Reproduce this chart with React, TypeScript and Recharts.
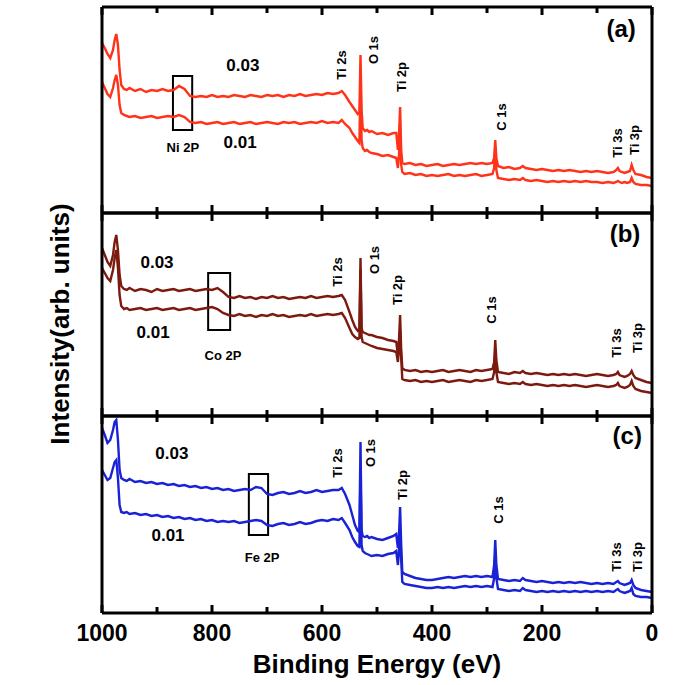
import React from 'react';
import { LineChart, Line, XAxis, YAxis, ReferenceArea, ReferenceDot } from 'recharts';

const FONT = '"Liberation Sans", Arial, Helvetica, sans-serif';

// Binding energy grid (eV)
const energy = [
  1000, 995, 990, 985, 980, 977, 974, 971, 968, 965,
  960, 955, 950, 940, 930, 920, 910, 900, 890, 880,
  870, 860, 850, 840, 830, 820, 810, 800, 790, 780,
  770, 760, 750, 740, 730, 720, 710, 700, 690, 680,
  670, 660, 650, 640, 630, 620, 610, 600, 590, 580,
  570, 564, 558, 550, 545, 540, 535, 532, 530, 528,
  526, 522, 518, 514, 510, 500, 490, 480, 470, 465,
  462, 460, 458, 456, 454, 450, 440, 430, 420, 410,
  400, 390, 380, 370, 360, 350, 340, 330, 320, 310,
  300, 290, 287, 285, 283, 280, 270, 260, 250, 240,
  235, 230, 220, 210, 200, 190, 180, 170, 160, 150,
  140, 130, 120, 110, 100, 90, 80, 70, 65, 62,
  59, 55, 50, 45, 40, 37, 34, 30, 20, 10,
  0,
];

// (a) Ni doped
const niHigh = [
  170, 165, 159, 155, 163, 173, 179, 168, 143, 128,
  124, 123, 125, 122, 124, 121, 123, 122, 124, 122,
  123, 127, 124, 117, 116, 117, 116, 118, 116, 117,
  116, 118, 117, 116, 118, 117, 116, 118, 117, 118,
  116, 118, 117, 119, 117, 118, 119, 118, 120, 119,
  120, 122, 118, 111, 107, 103, 99, 101, 158, 103,
  85, 82, 83, 81, 82, 79, 80, 78, 80, 80,
  63, 78, 106, 63, 50, 49, 50, 48, 49, 47,
  48, 49, 47, 48, 49, 48, 49, 50, 49, 50,
  49, 50, 55, 73, 55, 47, 45, 46, 44, 45,
  47, 45, 44, 43, 44, 43, 42, 43, 42, 43,
  42, 41, 42, 41, 42, 41, 40, 41, 43, 45,
  42, 41, 40, 41, 42, 48, 43, 39, 38, 36,
  35,
];
const niLow = [
  131, 125, 119, 116, 125, 133, 138, 128, 108, 100,
  98, 97, 96, 97, 95, 96, 97, 95, 96, 97,
  96, 98, 96, 91, 90, 91, 89, 90, 91, 89,
  90, 91, 89, 90, 91, 89, 90, 91, 90, 89,
  91, 90, 91, 89, 90, 91, 90, 92, 90, 91,
  90, 93, 89, 85, 80, 76, 72, 70, 133, 73,
  65, 62, 63, 61, 60, 59, 57, 58, 56, 55,
  45, 58, 85, 48, 41, 39, 40, 38, 39, 37,
  38, 37, 38, 39, 37, 38, 37, 38, 39, 37,
  38, 39, 45, 66, 43, 35, 34, 33, 34, 33,
  35, 33, 32, 33, 32, 31, 32, 31, 32, 31,
  32, 31, 32, 31, 31, 30, 31, 30, 31, 32,
  31, 30, 31, 30, 31, 35, 31, 29, 28, 28,
  27,
];

// (b) Co doped
const coHigh = [
  168, 161, 154, 150, 161, 174, 181, 166, 141, 130,
  127, 126, 128, 125, 127, 126, 124, 127, 125, 126,
  127, 125, 126, 127, 125, 126, 127, 126, 128, 124,
  119, 118, 120, 118, 119, 117, 119, 118, 120, 118,
  119, 117, 118, 119, 118, 120, 118, 119, 120, 119,
  120, 121, 116, 104, 96, 89, 85, 86, 158, 88,
  84, 83, 82, 81, 81, 79, 78, 76, 75, 74,
  61, 76, 101, 66, 48, 46, 45, 46, 44, 45,
  44, 45, 46, 44, 45, 46, 45, 44, 46, 45,
  46, 47, 54, 76, 56, 44, 43, 42, 44, 43,
  45, 43, 42, 43, 42, 41, 42, 41, 42, 41,
  42, 41, 40, 41, 42, 41, 40, 41, 42, 44,
  41, 40, 39, 40, 42, 45, 41, 38, 36, 34,
  33,
];
const coLow = [
  148, 143, 138, 135, 146, 158, 166, 148, 121, 110,
  107, 108, 106, 107, 108, 106, 107, 108, 106, 107,
  108, 106, 107, 108, 106, 107, 108, 109, 107, 103,
  101, 100, 102, 100, 101, 99, 101, 100, 102, 100,
  101, 99, 100, 101, 100, 102, 100, 101, 102, 101,
  102, 103, 98, 88, 82, 79, 77, 78, 146, 79,
  74, 73, 72, 71, 70, 68, 67, 66, 65, 64,
  54, 66, 86, 58, 37, 36, 35, 36, 34, 35,
  34, 35, 36, 34, 35, 36, 35, 34, 36, 35,
  36, 37, 44, 64, 44, 34, 33, 32, 33, 32,
  34, 32, 31, 32, 31, 30, 31, 30, 31, 30,
  31, 30, 29, 30, 31, 30, 29, 30, 31, 33,
  30, 29, 28, 29, 31, 35, 30, 27, 25, 24,
  23,
];

// (c) Fe doped
const feHigh = [
  185, 178, 170, 173, 183, 191, 193, 173, 143, 135,
  133, 132, 134, 131, 132, 130, 131, 129, 130, 128,
  129, 127, 128, 126, 127, 125, 126, 124, 125, 123,
  124, 122, 123, 124, 123, 126, 125, 119, 118, 120,
  121, 119, 120, 122, 120, 121, 123, 121, 122, 123,
  123, 125, 119, 108, 98, 88, 82, 81, 171, 83,
  77, 76, 77, 75, 76, 74, 73, 75, 77, 79,
  65, 78, 106, 68, 41, 39, 37, 35, 34, 33,
  33, 34, 35, 36, 35, 36, 37, 36, 37, 36,
  37, 36, 48, 73, 48, 34, 33, 32, 33, 32,
  35, 33, 32, 31, 32, 31, 30, 31, 30, 31,
  30, 31, 30, 29, 30, 29, 30, 29, 31, 32,
  30, 29, 28, 29, 30, 33, 28, 25, 23, 22,
  21,
];
const feLow = [
  143, 138, 133, 135, 145, 151, 153, 135, 108, 101,
  100, 101, 99, 100, 98, 99, 97, 98, 96, 97,
  95, 96, 94, 95, 93, 94, 92, 93, 91, 92,
  91, 92, 90, 91, 92, 93, 92, 88, 87, 89,
  90, 88, 89, 91, 89, 90, 92, 93, 92, 94,
  93, 95, 90, 83, 76, 71, 67, 66, 143, 68,
  62, 60, 59, 58, 57, 58, 57, 59, 60, 62,
  48, 61, 83, 53, 31, 29, 28, 27, 26, 25,
  25, 26, 25, 26, 25, 26, 27, 26, 27, 26,
  27, 26, 35, 58, 35, 24, 23, 22, 23, 22,
  25, 23, 22, 21, 22, 21, 22, 21, 22, 21,
  22, 21, 22, 21, 22, 21, 22, 21, 23, 24,
  22, 21, 20, 21, 22, 25, 19, 17, 16, 16,
  15,
];

const energyTicks = [1000, 900, 800, 700, 600, 500, 400, 300, 200, 100, 0];
const labelledTicks = [1000, 800, 600, 400, 200, 0];
const seriesNames = ['0.03', '0.01'];
const peakNames = ['Ti 2s', 'O 1s', 'Ti 2p', 'C 1s', 'Ti 3s', 'Ti 3p'];

type Note = { t: string; e: number; v: number; size: number; rot?: boolean };

const panels = [
  {
    key: 'a', color: '#ff3319',
    high: niHigh, low: niLow, top: 0, height: 218, mTop: 6, mBottom: 4, xHeight: 1, yMax: 206,
    box: [871, 836, 83, 137],
    notes: [
      { t: seriesNames[0], e: 744, v: 148, size: 17 },
      { t: seriesNames[1], e: 749, v: 71, size: 17 },
      { t: 'Ni 2P', e: 853, v: 66, size: 13 },
      { t: peakNames[0], e: 564, v: 148, size: 13, rot: true },
      { t: peakNames[1], e: 507, v: 163, size: 13, rot: true },
      { t: peakNames[2], e: 455, v: 136, size: 13, rot: true },
      { t: peakNames[3], e: 273, v: 96, size: 13, rot: true },
      { t: peakNames[4], e: 62, v: 70, size: 13, rot: true },
      { t: peakNames[5], e: 31, v: 73, size: 13, rot: true },
      { t: '(a)', e: 56, v: 185, size: 24 },
    ] as Note[],
    labels: false,
  },
  {
    key: 'b', color: '#7c1a10',
    high: coHigh, low: coLow, top: 208, height: 213, mTop: 4, mBottom: 4, xHeight: 1, yMax: 203,
    box: [807, 767, 86, 143],
    notes: [
      { t: seriesNames[0], e: 900, v: 154, size: 17 },
      { t: seriesNames[1], e: 907, v: 84, size: 17 },
      { t: 'Co 2P', e: 780, v: 61, size: 13 },
      { t: peakNames[0], e: 571, v: 144, size: 13, rot: true },
      { t: peakNames[1], e: 504, v: 156, size: 13, rot: true },
      { t: peakNames[2], e: 462, v: 126, size: 13, rot: true },
      { t: peakNames[3], e: 291, v: 106, size: 13, rot: true },
      { t: peakNames[4], e: 64, v: 73, size: 13, rot: true },
      { t: peakNames[5], e: 27, v: 78, size: 13, rot: true },
      { t: '(b)', e: 49, v: 183, size: 24 },
    ] as Note[],
    labels: false,
  },
  {
    key: 'c', color: '#1a22d6',
    high: feHigh, low: feLow, top: 411, height: 274, mTop: 4, mBottom: 0, xHeight: 72, yMax: 197,
    box: [733, 698, 78, 139],
    notes: [
      { t: seriesNames[0], e: 873, v: 160, size: 17 },
      { t: seriesNames[1], e: 880, v: 78, size: 17 },
      { t: 'Fe 2P', e: 709, v: 56, size: 13 },
      { t: peakNames[0], e: 571, v: 150, size: 13, rot: true },
      { t: peakNames[1], e: 511, v: 160, size: 13, rot: true },
      { t: peakNames[2], e: 453, v: 128, size: 13, rot: true },
      { t: peakNames[3], e: 280, v: 103, size: 13, rot: true },
      { t: peakNames[4], e: 64, v: 56, size: 13, rot: true },
      { t: peakNames[5], e: 27, v: 56, size: 13, rot: true },
      { t: '(c)', e: 45, v: 178, size: 24 },
    ] as Note[],
    labels: true,
  },
];

const tickLen = (v: number) => (v % 200 === 0 ? 8 : 6);

const TopTick = (props: any) => {
  const { x, y, payload } = props;
  return <line x1={x} x2={x} y1={y} y2={y + tickLen(payload.value)} stroke="#000" strokeWidth={3} />;
};

const makeBottomTick = (showLabels: boolean) => (props: any) => {
  const { x, y, payload } = props;
  return (
    <g>
      <line x1={x} x2={x} y1={y} y2={y - tickLen(payload.value)} stroke="#000" strokeWidth={3} />
      {showLabels && labelledTicks.includes(payload.value) ? (
        <text x={x} y={y + 28} textAnchor="middle" fontSize={23} fontWeight="bold" fontFamily={FONT} fill="#000">
          {payload.value}
        </text>
      ) : null}
    </g>
  );
};

const noteShape = (n: Note) => (p: any) => {
  const { cx, cy } = p;
  return (
    <text
      x={cx}
      y={cy}
      textAnchor="middle"
      dominantBaseline="central"
      transform={n.rot ? `rotate(-90 ${cx} ${cy})` : undefined}
      fontSize={n.size}
      fontWeight="bold"
      fontFamily={FONT}
      fill="#000"
    >
      {n.t}
    </text>
  );
};

const axisLine = { stroke: '#000', strokeWidth: 3 };

export default function App() {
  return (
    <div style={{ position: 'absolute', left: 0, top: 0, width: 685, height: 685, background: '#fff', overflow: 'hidden' }}>
      {panels.map((p) => {
        const rows = energy.map((e, i) => ({ e, high: p.high[i], low: p.low[i] }));
        return (
          <div key={p.key} style={{ position: 'absolute', left: 0, top: p.top }}>
            <LineChart
              width={685}
              height={p.height}
              data={rows}
              margin={{ top: p.mTop, right: 32, bottom: p.mBottom, left: 101 }}
            >
              <XAxis
                xAxisId="bottom"
                dataKey="e"
                type="number"
                domain={[0, 1000]}
                reversed
                ticks={energyTicks}
                interval={0}
                height={p.xHeight}
                tickSize={0}
                tickMargin={0}
                tickLine={false}
                axisLine={axisLine}
                tick={makeBottomTick(p.labels)}
                label={
                  p.labels
                    ? {
                        value: 'Binding Energy (eV)',
                        position: 'insideBottom',
                        offset: 12,
                        style: { fontSize: 26, fontWeight: 'bold', fontFamily: FONT, fill: '#000' },
                      }
                    : undefined
                }
              />
              <XAxis
                xAxisId="top"
                dataKey="e"
                type="number"
                orientation="top"
                domain={[0, 1000]}
                reversed
                ticks={energyTicks}
                interval={0}
                height={1}
                tickSize={0}
                tickMargin={0}
                tickLine={false}
                axisLine={axisLine}
                tick={TopTick}
              />
              <YAxis yAxisId="left" type="number" domain={[0, p.yMax]} width={1} tick={false} tickLine={false} axisLine={axisLine} />
              <YAxis yAxisId="right" orientation="right" type="number" domain={[0, p.yMax]} width={1} tick={false} tickLine={false} axisLine={axisLine} />
              <ReferenceArea
                xAxisId="bottom"
                yAxisId="left"
                x1={p.box[0]}
                x2={p.box[1]}
                y1={p.box[2]}
                y2={p.box[3]}
                fill="none"
                fillOpacity={0}
                stroke="#000"
                strokeWidth={2}
                ifOverflow="visible"
              />
              <Line xAxisId="bottom" yAxisId="left" dataKey="low" stroke={p.color} strokeWidth={2.4} dot={false} isAnimationActive={false} />
              <Line xAxisId="bottom" yAxisId="left" dataKey="high" stroke={p.color} strokeWidth={2.4} dot={false} isAnimationActive={false} />
              {p.notes.map((n, i) => (
                <ReferenceDot
                  key={i}
                  xAxisId="bottom"
                  yAxisId="left"
                  x={n.e}
                  y={n.v}
                  r={0}
                  ifOverflow="visible"
                  shape={noteShape(n)}
                />
              ))}
            </LineChart>
          </div>
        );
      })}
      <div
        style={{
          position: 'absolute',
          left: 60,
          top: 324,
          transform: 'translate(-50%, -50%) rotate(-90deg)',
          fontFamily: FONT,
          fontWeight: 'bold',
          fontSize: 26,
          lineHeight: '30px',
          whiteSpace: 'nowrap',
          color: '#000',
        }}
      >
        Intensity(arb. units)
      </div>
    </div>
  );
}
